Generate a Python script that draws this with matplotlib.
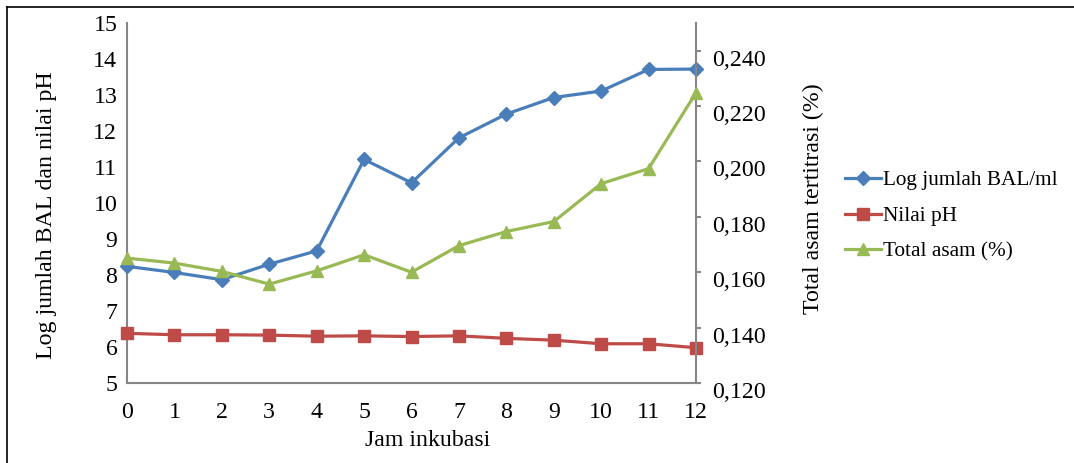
import matplotlib
matplotlib.use("Agg")
import matplotlib.pyplot as plt
import matplotlib.transforms as mtransforms
from matplotlib.lines import Line2D

plt.rcParams['font.family'] = ['Liberation Serif', 'DejaVu Serif']

jam = [0, 1, 2, 3, 4, 5, 6, 7, 8, 9, 10, 11, 12]
log_bal = [8.24, 8.07, 7.87, 8.30, 8.67, 11.21, 10.56, 11.81, 12.47, 12.93, 13.11, 13.71, 13.72]
nilai_ph = [6.38, 6.34, 6.34, 6.33, 6.30, 6.31, 6.29, 6.31, 6.24, 6.19, 6.09, 6.09, 5.98]
total_asam = [0.1651, 0.1633, 0.1603, 0.1557, 0.1605, 0.1663, 0.1600, 0.1696, 0.1747, 0.1783, 0.1920, 0.1974, 0.2248]
left_ticks = list(range(5, 16))
right_ticks = [0.12, 0.14, 0.16, 0.18, 0.20, 0.22, 0.24]
right_ticklabels = ["0,120", "0,140", "0,160", "0,180", "0,200", "0,220", "0,240"]

blue = "#4A7EBB"
red = "#BE4B48"
green = "#98B954"
gray = "#868686"
FS = 17.2
LFS = 15.3

W, H = 1074, 463
fig = plt.figure(figsize=(W / 100, H / 100), dpi=100)
ax = fig.add_axes([127 / W, 1 - 383 / H, (696 - 127) / W, (383 - 23) / H])
ax2 = ax.twinx()

ax.plot(jam, log_bal, color=blue, lw=2.3, marker='D', ms=7, mec=blue, mfc=blue, clip_on=False, zorder=3)
ax.plot(jam, nilai_ph, color=red, lw=2.3, marker='s', ms=8, mec=red, mfc=red, clip_on=False, zorder=3)
ax2.plot(jam, total_asam, color=green, lw=2.3, marker='^', ms=9, mec=green, mfc=green, clip_on=False, zorder=3)

ax.set_xlim(0, 12)
ax.set_ylim(5, 15)
ax2.set_ylim(0.12, 0.25)
ax.set_xticks(jam)
ax.set_xticklabels([str(j) for j in jam], fontsize=FS)
ax.set_yticks(left_ticks)
ax.set_yticklabels([str(v) for v in left_ticks], fontsize=FS)
ax2.set_yticks(right_ticks)
ax2.set_yticklabels(right_ticklabels, fontsize=FS)

for a in (ax, ax2):
    for s in a.spines.values():
        s.set_color(gray)
        s.set_linewidth(1.5)
    a.spines['top'].set_visible(False)
ax.spines['right'].set_visible(False)
ax2.spines['left'].set_visible(False)
ax2.spines['bottom'].set_visible(False)

ax.tick_params(axis='x', length=0, pad=14)
ax.tick_params(axis='y', length=0, pad=7)
ax2.tick_params(axis='y', length=3.5, width=1.5, color=gray, pad=8)

off = mtransforms.ScaledTranslation(0, -7 / 100, fig.dpi_scale_trans)
for lab in ax2.get_yticklabels():
    lab.set_transform(lab.get_transform() + off)

fig.text(47 / W, 1 - 215 / H, "Log jumlah BAL dan nilai pH", rotation=90,
         ha='center', va='center', fontsize=FS)
fig.text(813 / W, 1 - 199 / H, "Total asam tertitrasi (%)", rotation=90,
         ha='center', va='center', fontsize=FS)
fig.text(428 / W, 1 - 440 / H, "Jam inkubasi", ha='center', va='center', fontsize=FS)

handles = [
    Line2D([], [], color=blue, lw=2.3, marker='D', ms=7),
    Line2D([], [], color=red, lw=2.3, marker='s', ms=8),
    Line2D([], [], color=green, lw=2.3, marker='^', ms=9),
]
labels = ["Log jumlah BAL/ml", "Nilai pH", "Total asam (%)"]
fig.legend(handles, labels, loc='center left', bbox_to_anchor=(845 / W, 1 - 216 / H),
           frameon=False, fontsize=LFS, borderpad=0, borderaxespad=0,
           handlelength=1.7, handletextpad=0.08, labelspacing=0.75)

# outer frame (top and left visible)
fig.add_artist(Line2D([7 / W, 7 / W], [0, 1 - 7 / H], color='black', lw=1.2, transform=fig.transFigure))
fig.add_artist(Line2D([7 / W, 1], [1 - 7 / H, 1 - 7 / H], color='black', lw=1.2, transform=fig.transFigure))

fig.savefig("out.png", dpi=100)
